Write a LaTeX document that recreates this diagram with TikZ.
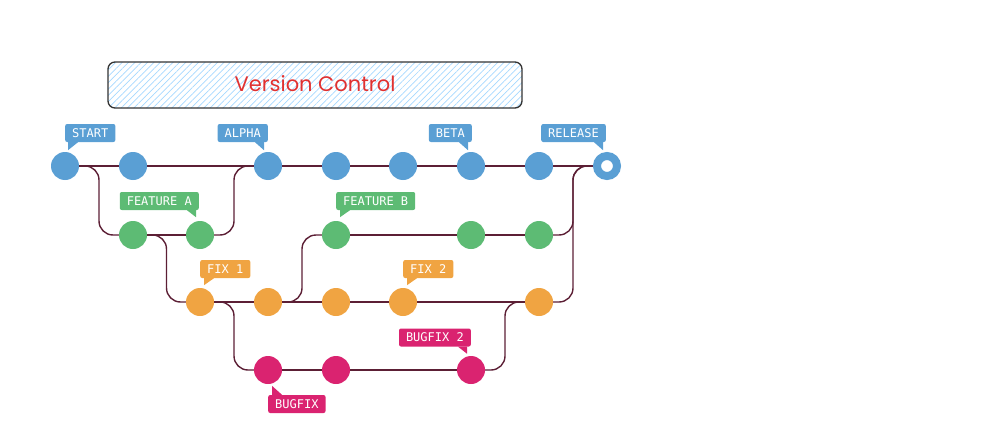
\documentclass[tikz,border=0pt]{standalone}
\usepackage{fontspec}
\newfontfamily\tagfont{DejaVu Sans Mono}
\newfontfamily\titlefont{Poppins}
\usetikzlibrary{calc,backgrounds,patterns.meta}

\definecolor{cBlue}{HTML}{5A9FD4}
\definecolor{cGreen}{HTML}{5DBB74}
\definecolor{cOrange}{HTML}{F0A442}
\definecolor{cPink}{HTML}{DA2370}
\definecolor{cLink}{HTML}{5C1F35}
\definecolor{cHatch}{HTML}{A5D8FF}
\definecolor{cTitle}{HTML}{E03131}

\tikzset{
  commit/.style={circle, minimum size=28pt, inner sep=0pt, fill=#1},
  tag/.style={fill=#1, rounded corners=2pt, text=white,
    font=\tagfont\fontsize{12}{12}\selectfont, inner xsep=7pt, inner ysep=0pt,
    text height=8.5pt, text depth=0pt, minimum height=18pt},
  link/.style={draw=cLink, line width=1.4pt, rounded corners=14pt},
}

\begin{document}
\begin{tikzpicture}[x=1pt,y=-1pt]
\useasboundingbox (0,0) rectangle (1000,420);

% title box
\draw[draw=black!80, line width=1.3pt, rounded corners=7pt,
  pattern={Lines[angle=45,distance=4.5pt,line width=0.7pt]}, pattern color=cHatch]
  (108,62) rectangle (522,108);
\node[text=cTitle, font=\titlefont\fontsize{21}{21}\selectfont] (title) at (315,84) {Version Control};

% commits
\foreach \x/\n in {65/m1,133/m2,268/m3,336/m4,403/m5,471/m6,539/m7}
  \node[commit=cBlue] (\n) at (\x,166) {};
\node[circle, draw=cBlue, line width=8pt, fill=white, minimum size=20pt, inner sep=0pt] (rel) at (607,166) {};
\foreach \x/\n in {133/g1,200/g2,336/g3,471/g4,539/g5}
  \node[commit=cGreen] (\n) at (\x,235) {};
\foreach \x/\n in {200/o1,268/o2,336/o3,403/o4,539/o5}
  \node[commit=cOrange] (\n) at (\x,302) {};
\foreach \x/\n in {268/p1,336/p2,471/p3}
  \node[commit=cPink] (\n) at (\x,370) {};

% branches
\begin{scope}[on background layer]
\draw[link] (m1.center) -- (rel.center);
\draw[link] (m1.center) -| ($(m1)!.5!(g1)$) |- (g1.center);
\draw[link] (g1.center) -- (g2.center);
\draw[link] (g2.center) -| ($(g2)!.5!(m3)$) |- (m3.center);
\draw[link] (g1.center) -| ($(g1)!.5!(o1)$) |- (o1.center);
\draw[link] (o1.center) -- (o5.center);
\draw[link] (o2.center) -| ($(o2)!.5!(g3)$) |- (g3.center);
\draw[link] (g3.center) -- (g5.center);
\draw[link] (o1.center) -| ($(o1)!.5!(p1)$) |- (p1.center);
\draw[link] (p1.center) -- (p3.center);
\draw[link] (p3.center) -| ($(p3)!.5!(o5)$) |- (o5.center);
\draw[link] (o5.center) -| ($(o5)!.5!(rel)$) |- (rel.center);
\draw[link] (g5.center) -| ($(g5)!.5!(rel)$) |- (rel.center);
\end{scope}

% tags
\node[tag=cBlue, anchor=west] (tStart) at (65,133) {START};
\fill[cBlue] ([xshift=3pt]tStart.south west) -- ++(10,0) -- ++(-10,8) -- cycle;
\node[tag=cBlue, anchor=east] (tAlpha) at (268,133) {ALPHA};
\fill[cBlue] ([xshift=-4pt]tAlpha.south east) -- ++(-9,0) -- ++(9,8) -- cycle;
\node[tag=cBlue, anchor=east] (tBeta) at (472,133) {BETA};
\fill[cBlue] ([xshift=-4pt]tBeta.south east) -- ++(-9,0) -- ++(9,8) -- cycle;
\node[tag=cBlue, anchor=east] (tRelease) at (606,133) {RELEASE};
\fill[cBlue] ([xshift=-3pt]tRelease.south east) -- ++(-9,0) -- ++(9,8) -- cycle;

\node[tag=cGreen, anchor=east] (tFeatA) at (199,201) {FEATURE A};
\fill[cGreen] ([xshift=-3pt]tFeatA.south east) -- ++(-9,0) -- ++(9,7) -- cycle;
\node[tag=cGreen, anchor=west] (tFeatB) at (336,201) {FEATURE B};
\fill[cGreen] ([xshift=4pt]tFeatB.south west) -- ++(10,0) -- ++(-10,7) -- cycle;

\node[tag=cOrange, anchor=west] (tFix1) at (200,269) {FIX 1};
\fill[cOrange] ([xshift=4pt]tFix1.south west) -- ++(10,0) -- ++(-10,7) -- cycle;
\node[tag=cOrange, anchor=west] (tFix2) at (403,269) {FIX 2};
\fill[cOrange] ([xshift=4pt]tFix2.south west) -- ++(10,0) -- ++(-10,7) -- cycle;

\node[tag=cPink, anchor=east] (tBug2) at (471,337.5) {BUGFIX 2};
\fill[cPink] ([xshift=-4pt]tBug2.south east) -- ++(-9,0) -- ++(9,7) -- cycle;
\node[tag=cPink, anchor=west] (tBug) at (268,404) {BUGFIX};
\fill[cPink] ([xshift=4pt]tBug.north west) -- ++(10,0) -- ++(-10,-9) -- cycle;
\end{tikzpicture}
\end{document}
